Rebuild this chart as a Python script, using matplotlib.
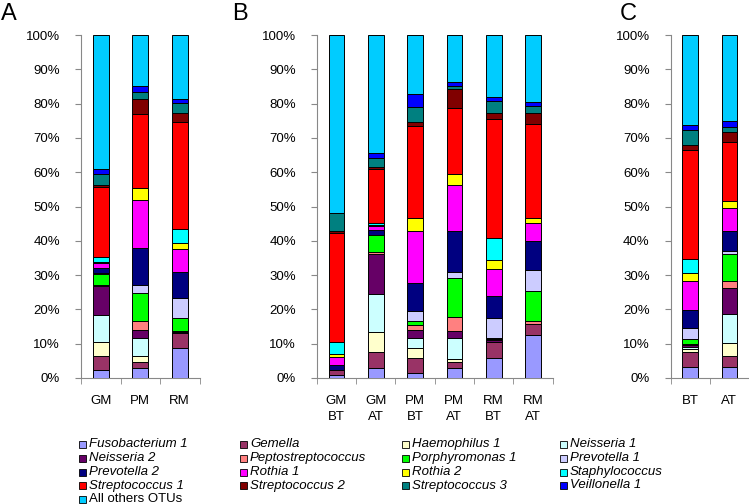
import matplotlib
matplotlib.use("Agg")
import matplotlib.pyplot as plt
from matplotlib.patches import Rectangle

plt.rcParams["font.family"] = ["Liberation Sans", "DejaVu Sans"]

# taxa, bottom to top of each stack
taxa = ["Fusobacterium 1", "Gemella", "Haemophilus 1", "Neisseria 1",
        "Neisseria 2", "Peptostreptococcus", "Porphyromonas 1", "Prevotella 1",
        "Prevotella 2", "Rothia 1", "Rothia 2", "Staphylococcus",
        "Streptococcus 1", "Streptococcus 2", "Streptococcus 3", "Veillonella 1",
        "All others OTUs"]
colors = ["#9999FF", "#993366", "#FFFFCC", "#CCFFFF", "#660066", "#FF8080",
          "#00FF00", "#CCCCFF", "#000080", "#FF00FF", "#FFFF00", "#00FFFF",
          "#FF0000", "#800000", "#008080", "#0000FF", "#00CCFF"]

# percentages per sample (same order as taxa)
a_labels = ["GM", "PM", "RM"]
a_values = [
    [2.3, 4.1, 4.2, 7.8, 8.4, 0.3, 3.2, 0.2, 1.7, 1.3, 0.3, 1.6, 20.4, 0.5, 3.1, 1.5, 39.1],
    [2.8, 2.0, 1.7, 5.1, 2.3, 2.8, 8.2, 2.2, 10.7, 14.0, 3.6, 0.0, 21.7, 4.2, 2.0, 1.7, 15.0],
    [8.8, 4.4, 0.0, 0.0, 0.2, 0.4, 3.6, 5.8, 7.8, 6.5, 2.0, 3.9, 31.1, 2.9, 2.7, 1.2, 18.7],
]
b_labels = ["GM\nBT", "GM\nAT", "PM\nBT", "PM\nAT", "RM\nBT", "RM\nAT"]
b_values = [
    [0.9, 1.4, 0.0, 0.0, 0.0, 0.0, 0.0, 0.0, 1.5, 2.4, 0.7, 3.7, 31.8, 0.6, 5.2, 0.0, 51.8],
    [3.0, 4.7, 5.8, 11.0, 11.7, 0.6, 4.9, 0.0, 1.4, 1.2, 0.4, 0.4, 15.9, 0.6, 2.4, 1.7, 34.3],
    [1.4, 4.3, 3.0, 2.9, 2.4, 1.5, 1.1, 2.9, 8.1, 15.3, 3.8, 0.0, 26.9, 1.1, 4.4, 3.6, 17.3],
    [3.0, 1.8, 0.7, 6.1, 2.1, 4.0, 11.6, 1.5, 12.1, 13.4, 3.1, 0.0, 19.4, 5.5, 0.9, 1.2, 13.6],
    [5.7, 4.7, 0.0, 0.0, 0.6, 0.3, 0.3, 5.8, 6.5, 7.8, 2.7, 6.3, 34.7, 1.8, 3.6, 1.2, 18.0],
    [12.5, 3.2, 0.0, 0.0, 0.0, 1.0, 8.8, 6.0, 8.5, 5.1, 1.6, 0.0, 27.3, 3.4, 1.9, 1.1, 19.6],
]
c_labels = ["BT", "AT"]
c_values = [
    [3.3, 4.4, 0.7, 0.6, 0.5, 0.5, 1.3, 3.4, 5.1, 8.5, 2.2, 4.1, 31.9, 1.4, 4.4, 1.5, 26.2],
    [3.1, 3.3, 3.8, 8.4, 7.5, 2.2, 7.8, 1.0, 5.8, 6.6, 2.1, 0.0, 17.3, 2.8, 1.6, 1.7, 25.0],
]

W, H = 749, 504
fig = plt.figure(figsize=(W / 100, H / 100), dpi=100)


def panel(left_px, width_px, labels, values, letter, letter_x):
    ax = fig.add_axes([left_px / W, 126 / H, width_px / W, 343 / H])
    n = len(labels)
    x = list(range(n))
    for i in range(len(taxa)):
        bottoms = [sum(v[:i]) for v in values]
        heights = [v[i] for v in values]
        ax.bar(x, heights, bottom=bottoms, width=0.4, color=colors[i],
               edgecolor="black", linewidth=0.7, zorder=3)
    ax.set_xlim(-0.5, n - 0.5)
    ax.set_ylim(0, 100)
    ax.set_yticks(range(0, 101, 10))
    ax.set_yticklabels([f"{t}%" for t in range(0, 101, 10)], fontsize=9.5)
    ax.set_xticks(x)
    ax.set_xticklabels(labels, fontsize=9.5, linespacing=1.45)
    ax.set_xticks([k - 0.5 for k in range(n + 1)], minor=True)
    ax.tick_params(axis="y", length=4, color="#888888", pad=11)
    ax.tick_params(axis="x", which="major", length=0, pad=12)
    ax.tick_params(axis="x", which="minor", length=4, color="#888888")
    for s in ["top", "right"]:
        ax.spines[s].set_visible(False)
    for s in ["left", "bottom"]:
        ax.spines[s].set_color("#888888")
        ax.spines[s].set_linewidth(0.8)
    fig.text(letter_x / W, 1 - 3 / H, letter, fontsize=17, va="top", ha="left")
    return ax


panel(81, 118.5, a_labels, a_values, "A", 1)
panel(316.7, 236, b_labels, b_values, "B", 232)
panel(670.5, 78.5, c_labels, c_values, "C", 620)

# legend, filled row by row in four columns
col_x = [82, 243, 405, 563]
row_y = [444, 458, 472, 485.5, 499]
for k, name in enumerate(taxa):
    cx = col_x[k % 4]
    cy = row_y[k // 4]
    fig.add_artist(Rectangle(((cx - 3.5) / W, 1 - (cy + 3.5) / H), 7 / W, 7 / H,
                             transform=fig.transFigure, facecolor=colors[k],
                             edgecolor="black", linewidth=0.6))
    style = "normal" if name == "All others OTUs" else "italic"
    fig.text((cx + 7) / W, 1 - cy / H, name, fontsize=9.5, style=style,
             va="center", ha="left")

fig.savefig("out.png", dpi=100)
